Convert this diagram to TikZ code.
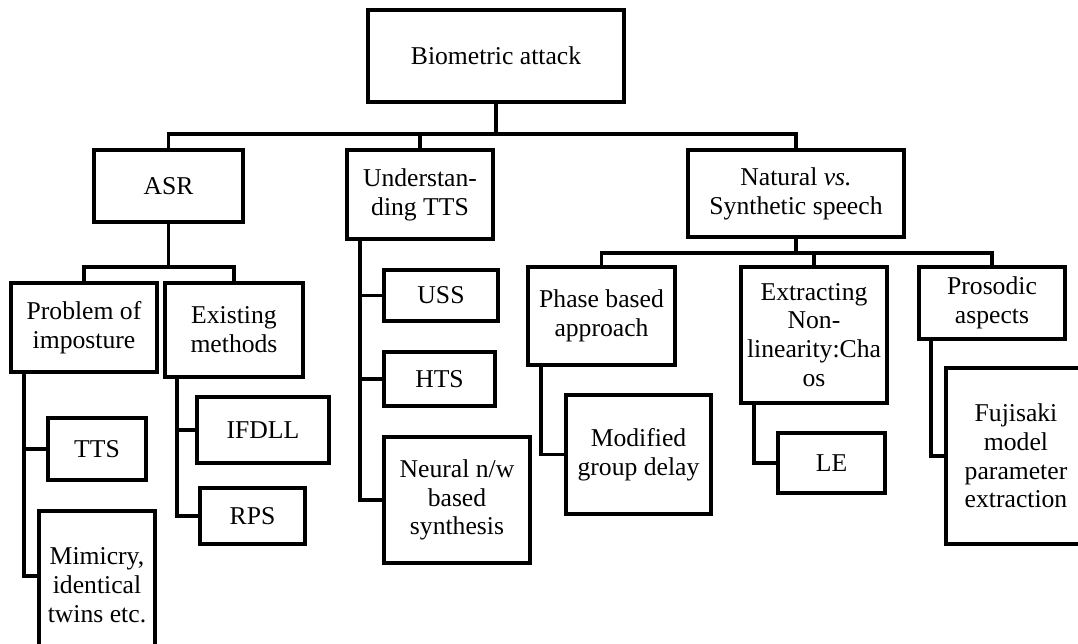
\documentclass[tikz,border=0pt]{standalone}
\usepackage{fontspec}
\setmainfont{Liberation Serif}
\usetikzlibrary{calc}

\begin{document}
\begin{tikzpicture}[x=0.02cm,y=-0.02cm,
        box/.style 2 args={draw,line width=2.1pt,align=center,inner sep=0pt,
            minimum width=#1*0.02cm,minimum height=#2*0.02cm,
            font=\fontsize{14.6}{16.4}\selectfont},
        link/.style={line width=2.1pt}]
    \useasboundingbox (0,0) rectangle (1078,644);

    % top level
    \node[box={256}{92}] (bio) at (496,56) {Biometric attack};

    \node[box={149}{72}] (asr) at (168.5,186) {ASR};
    \node[box={146}{89}] (utts) at (420,194.5) {Understan-\\ding TTS};
    \node[box={216}{87}] (nat) at (796,193.5) {Natural \textit{vs.}\\Synthetic speech};

    % ASR branch
    \node[box={146}{89}] (prob) at (84,327.5) {Problem of\\imposture};
    \node[box={138}{94}] (exist) at (234,330) {Existing\\methods};
    \node[box={98}{62}] (tts) at (97,449) {TTS};
    \node[box={116}{149}] (mim) at (97,585.5) {Mimicry,\\identical\\twins etc.};
    \node[box={132}{66}] (ifdll) at (263,430) {IFDLL};
    \node[box={105}{56}] (rps) at (252.5,516) {RPS};

    % TTS branch
    \node[box={114}{51}] (uss) at (441,295.5) {USS};
    \node[box={111}{54}] (hts) at (439.5,379) {HTS};
    \node[box={146}{126}] (neural) at (457,500) {Neural n/w\\based\\synthesis};

    % natural vs synthetic branch
    \node[box={147}{98}] (phase) at (601.5,316) {Phase based\\approach};
    \node[box={146}{136}] (extr) at (814,335) {Extracting\\Non-\\linearity:Cha\\os};
    \node[box={146}{72}] (pros) at (992,303) {Prosodic\\aspects};
    \node[box={145}{119}] (mod) at (638.5,454.5) {Modified\\group delay};
    \node[box={107}{60}] (le) at (831.5,463) {LE};
    \node[box={140}{176}] (fuji) at (1016,456) {Fujisaki\\model\\parameter\\extraction};

    % buses
    \coordinate (j1) at (496,134);
    \coordinate (j2) at (168.5,267);
    \coordinate (j3) at (796,253);
    \draw[link] (bio.south) -- (j1);
    \draw[link] (asr.north) |- (j1) -| (nat.north);
    \draw[link] (utts.north) -- (utts.north |- j1);
    \draw[link] (asr.south) -- (j2);
    \draw[link] (prob.north) |- (j2) -| (exist.north);
    \draw[link] (nat.south) -- (j3);
    \draw[link] (phase.north) |- (j3) -| (pros.north);
    \draw[link] (extr.north) -- (extr.north |- j3);

    % side stems
    \coordinate (s1) at ($(prob.south west)+(15,0)$);
    \coordinate (s2) at ($(exist.south west)+(14,0)$);
    \coordinate (s3) at ($(utts.south west)+(15,0)$);
    \coordinate (s4) at ($(phase.south west)+(15,0)$);
    \coordinate (s5) at ($(extr.south west)+(15,0)$);
    \coordinate (s6) at ($(pros.south west)+(14,0)$);
    \draw[link] (s1) |- (tts.west);
    \draw[link] (s1) |- ($(mim.north west)+(0,67)$);
    \draw[link] (s2) |- (ifdll.west);
    \draw[link] (s2) |- (rps.west);
    \draw[link] (s3) |- (uss.west);
    \draw[link] (s3) |- (hts.west);
    \draw[link] (s3) |- (neural.west);
    \draw[link] (s4) |- (mod.west);
    \draw[link] (s5) |- (le.west);
    \draw[link] (s6) |- (fuji.west);
\end{tikzpicture}
\end{document}
